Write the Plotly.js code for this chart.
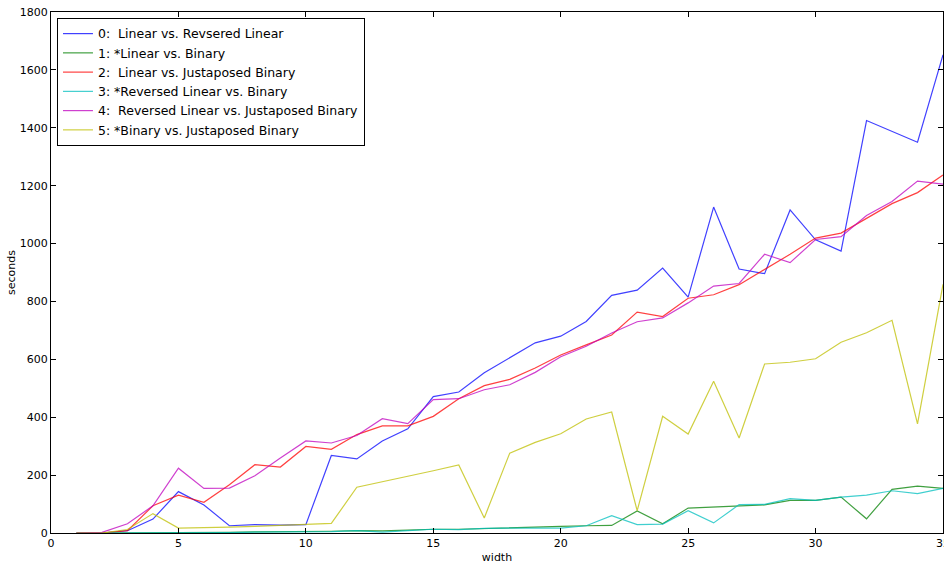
<!DOCTYPE html>
<html>
<head>
<meta charset="utf-8">
<script src="https://cdn.plot.ly/plotly-3.0.1.min.js"></script>
<style>
  html, body { margin: 0; padding: 0; background: #fff; overflow: hidden; }
  #chart { width: 944px; height: 564px; }
</style>
</head>
<body>
<div id="chart"></div>
<script>
const widths = [1,2,3,4,5,6,7,8,9,10,11,12,13,14,15,16,17,18,19,20,21,22,23,24,25,26,27,28,29,30,31,32,33,34,35];

const seriesNames = [
  "0: \u00a0Linear vs. Revsered Linear",
  "1: *Linear vs. Binary",
  "2: \u00a0Linear vs. Justaposed Binary",
  "3: *Reversed Linear vs. Binary",
  "4: \u00a0Reversed Linear vs. Justaposed Binary",
  "5: *Binary vs. Justaposed Binary"
];

const linearVsReversed = [0,0,8,48,143,97,25,29,27,29,268,256,318,360,471,487,554,605,657,680,731,821,839,915,815,1126,912,896,1116,1013,974,1425,1388,1350,1652];
const linearVsBinary = [0,0,0,0,1,1,2,4,4,5,6,8,7,10,13,13,16,19,21,23,25,26,76,32,86,89,92,97,113,113,124,49,151,162,154];
const linearVsJustaposed = [0,0,8,94,131,106,167,236,228,299,289,340,370,370,403,464,509,531,570,615,650,684,763,748,811,823,858,911,963,1019,1036,1087,1138,1176,1237];
const reversedVsBinary = [0,0,0,0,0,1,1,3,3,4,5,8,3,8,13,12,16,17,18,17,25,60,29,31,77,35,98,99,119,113,124,131,146,136,154];
const reversedVsJustaposed = [0,2,32,94,224,154,155,198,259,318,311,337,395,378,461,464,495,512,555,609,645,691,730,743,795,853,862,963,934,1014,1024,1097,1145,1216,1205];
const binaryVsJustaposed = [0,0,12,67,17,18,20,23,26,29,33,158,177,194,215,235,52,276,313,343,394,418,77,403,342,524,328,584,590,602,659,692,735,377,859];

const xTickVals = [0,5,10,15,20,25,30,35];
const yTickVals = [0,200,400,600,800,1000,1200,1400,1600,1800];

const allSeries = [linearVsReversed, linearVsBinary, linearVsJustaposed, reversedVsBinary, reversedVsJustaposed, binaryVsJustaposed];
const colors = [
  "rgba(0,0,255,0.75)",
  "rgba(0,128,0,0.75)",
  "rgba(255,0,0,0.75)",
  "rgba(0,191,191,0.75)",
  "rgba(191,0,191,0.75)",
  "rgba(191,191,0,0.75)"
];

const traces = allSeries.map((ys, i) => ({
  x: widths,
  y: ys,
  type: "scatter",
  mode: "lines",
  name: seriesNames[i],
  line: { color: colors[i], width: 1.2 }
}));

const fontFam = "DejaVu Sans, sans-serif";

const layout = {
  width: 944,
  height: 564,
  margin: { l: 51, r: 1, t: 12, b: 31, pad: 0 },
  paper_bgcolor: "#ffffff",
  plot_bgcolor: "#ffffff",
  font: { family: fontFam, size: 11, color: "#000" },
  showlegend: true,
  legend: {
    x: 0.0067, y: 0.9885, xanchor: "left", yanchor: "top",
    bgcolor: "#ffffff",
    bordercolor: "#000000",
    borderwidth: 1,
    font: { family: fontFam, size: 12.5, color: "#000" },
    tracegroupgap: 0
  },
  xaxis: {
    range: [0, 35],
    tickmode: "array",
    tickvals: xTickVals,
    ticktext: xTickVals.map(String),
    showgrid: false,
    zeroline: false,
    showline: true,
    linecolor: "#000",
    linewidth: 1,
    mirror: "ticks",
    ticks: "inside",
    ticklen: 5,
    tickcolor: "#000",
    automargin: false,
    ticklabeloverflow: "allow",
    tickfont: { family: fontFam, size: 11, color: "#000" },
    title: { text: "width", font: { family: fontFam, size: 11, color: "#000" }, standoff: 4 }
  },
  yaxis: {
    range: [0, 1800],
    tickmode: "array",
    tickvals: yTickVals,
    ticktext: yTickVals.map(String),
    showgrid: false,
    zeroline: false,
    showline: true,
    linecolor: "#000",
    linewidth: 1,
    mirror: "ticks",
    ticks: "inside",
    ticklen: 5,
    tickcolor: "#000",
    automargin: false,
    ticklabeloverflow: "allow",
    tickfont: { family: fontFam, size: 11, color: "#000" },
    title: { text: "seconds", font: { family: fontFam, size: 11, color: "#000" }, standoff: 1 }
  }
};

Plotly.newPlot("chart", traces, layout, { displayModeBar: false, staticPlot: true });
</script>
</body>
</html>
